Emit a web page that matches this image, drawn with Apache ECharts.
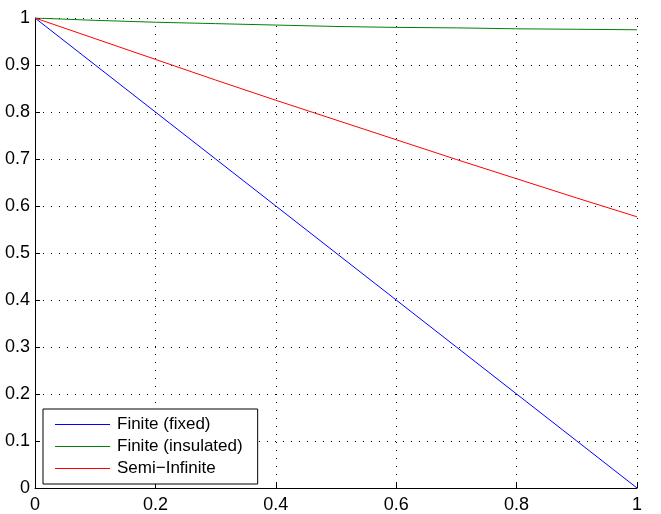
<!DOCTYPE html>
<html>
<head>
<meta charset="utf-8">
<script src="https://cdn.jsdelivr.net/npm/echarts@6/dist/echarts.min.js"></script>
<style>
html, body { margin: 0; padding: 0; background: #fff; }
#chart { width: 661px; height: 514px; }
</style>
</head>
<body>
<div id="chart"></div>
<script>
var xValues = [0, 0.1, 0.2, 0.3, 0.4, 0.5, 0.6, 0.7, 0.8, 0.9, 1];
var fixedValues = [1, 0.9, 0.8, 0.7, 0.6, 0.5, 0.4, 0.3, 0.2, 0.1, 0];
var insulatedValues = [1, 0.995, 0.991, 0.988, 0.985, 0.982, 0.98, 0.979, 0.977, 0.976, 0.975];
var semiValues = [1, 0.956, 0.912, 0.868, 0.825, 0.783, 0.741, 0.699, 0.658, 0.617, 0.577];
var seriesNames = ['Finite (fixed)', 'Finite (insulated)', 'Semi\u2212Infinite'];
var seriesColors = ['#0000ff', '#008000', '#ff0000'];

function pairs(ys) {
	var out = [];
	for (var i = 0; i < xValues.length; i++) {
		out.push([xValues[i], ys[i]]);
	}
	return out;
}

function draw_chart(idname) {
	let mychart = echarts.init(document.getElementById(idname));
	var allValues = [fixedValues, insulatedValues, semiValues];
	var series = [];
	for (var i = 0; i < seriesNames.length; i++) {
		series.push({
			name: seriesNames[i],
			type: 'line',
			data: pairs(allValues[i]),
			symbol: 'none',
			lineStyle: { color: seriesColors[i], width: 1 },
			itemStyle: { color: seriesColors[i] },
			animation: false
		});
	}

	var splitStyle = {
		show: true,
		lineStyle: { color: '#000', width: 1, type: [1, 7] }
	};

	let option = {
		backgroundColor: '#fff',
		textStyle: { fontFamily: 'Liberation Sans, Arial, sans-serif' },
		grid: { left: 35, top: 18, right: 24, bottom: 22 },
		legend: {
			left: 43,
			top: 409,
			orient: 'vertical',
			icon: 'rect',
			itemWidth: 55,
			itemHeight: 1,
			itemGap: 5,
			padding: [7, 15, 7, 12],
			borderColor: '#000',
			borderWidth: 1,
			backgroundColor: '#fff',
			textStyle: { color: '#000', fontSize: 17, padding: [0, 0, 0, 2], fontFamily: 'Liberation Sans, Arial, sans-serif' },
			data: seriesNames
		},
		xAxis: {
			type: 'value',
			min: 0,
			max: 1,
			interval: 0.2,
			axisLine: { show: true, lineStyle: { color: '#000', width: 1 } },
			axisTick: { show: true, inside: true, length: 5, lineStyle: { color: '#000' } },
			axisLabel: { color: '#000', fontSize: 18, margin: 8 },
			splitLine: splitStyle
		},
		yAxis: {
			type: 'value',
			min: 0,
			max: 1,
			interval: 0.1,
			axisLine: { show: true, lineStyle: { color: '#000', width: 1 } },
			axisTick: { show: true, inside: true, length: 5, lineStyle: { color: '#000' } },
			axisLabel: { color: '#000', fontSize: 18, margin: 5 },
			splitLine: splitStyle
		},
		series: series
	};
	mychart.setOption(option);
}

draw_chart('chart');
</script>
</body>
</html>
